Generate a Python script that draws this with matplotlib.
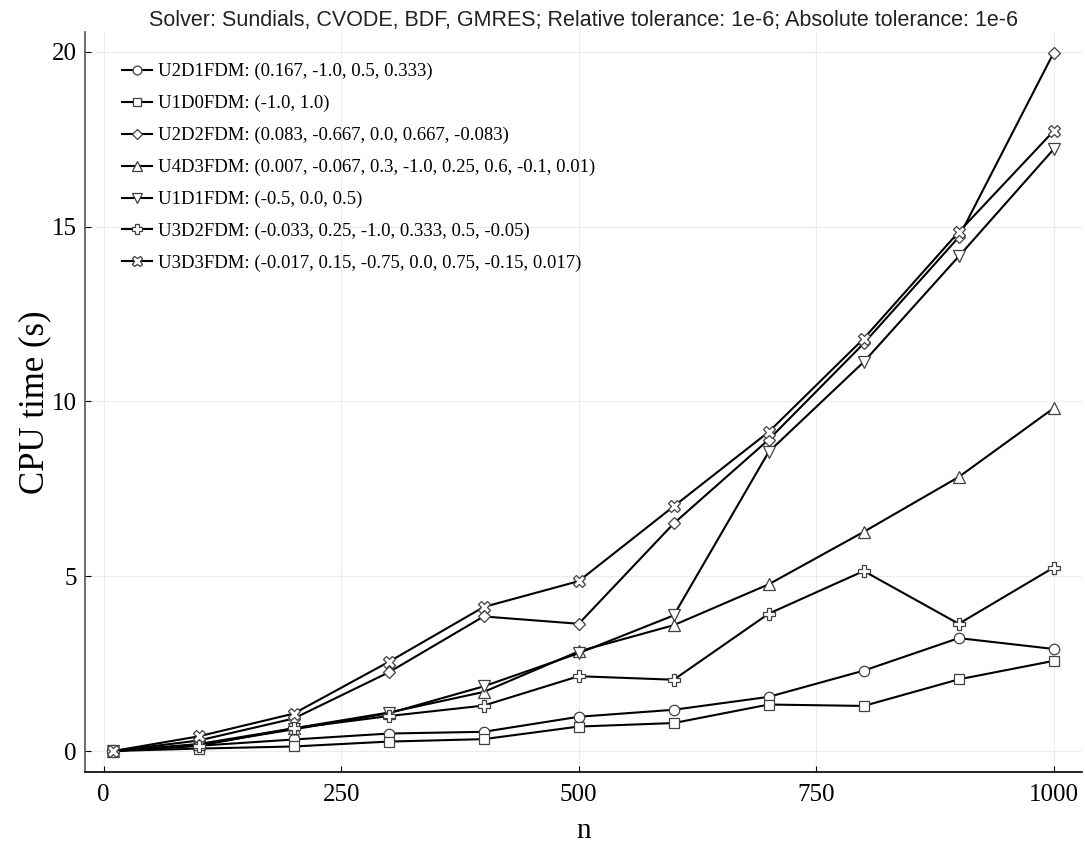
import matplotlib
matplotlib.use("Agg")
import matplotlib.pyplot as plt

# grid sizes and CPU times (s) for each finite difference scheme
n = [10, 100, 200, 300, 400, 500, 600, 700, 800, 900, 1000]

u2d1 = [0.0, 0.15, 0.33, 0.50, 0.55, 0.98, 1.18, 1.55, 2.30, 3.23, 2.92]
u1d0 = [0.0, 0.07, 0.13, 0.27, 0.34, 0.70, 0.80, 1.33, 1.29, 2.05, 2.58]
u2d2 = [0.0, 0.30, 0.93, 2.25, 3.85, 3.64, 6.51, 8.91, 11.66, 14.70, 19.98]
u4d3 = [0.0, 0.20, 0.65, 1.10, 1.69, 2.85, 3.60, 4.77, 6.27, 7.84, 9.81]
u1d1 = [0.0, 0.18, 0.62, 1.08, 1.85, 2.80, 3.88, 8.56, 11.13, 14.15, 17.22]
u3d2 = [0.0, 0.15, 0.65, 1.00, 1.30, 2.14, 2.04, 3.93, 5.15, 3.64, 5.25]
u3d3 = [0.0, 0.42, 1.07, 2.55, 4.12, 4.86, 7.00, 9.13, 11.80, 14.85, 17.74]

labels = [
    "U2D1FDM: (0.167, -1.0, 0.5, 0.333)",
    "U1D0FDM: (-1.0, 1.0)",
    "U2D2FDM: (0.083, -0.667, 0.0, 0.667, -0.083)",
    "U4D3FDM: (0.007, -0.067, 0.3, -1.0, 0.25, 0.6, -0.1, 0.01)",
    "U1D1FDM: (-0.5, 0.0, 0.5)",
    "U3D2FDM: (-0.033, 0.25, -1.0, 0.333, 0.5, -0.05)",
    "U3D3FDM: (-0.017, 0.15, -0.75, 0.0, 0.75, -0.15, 0.017)",
]
series = [u2d1, u1d0, u2d2, u4d3, u1d1, u3d2, u3d3]
markers = ["o", "s", "D", "^", "v", "P", "X"]
sizes = [7.5, 7.5, 6.5, 8, 8, 8.5, 8.5]

serif = "Liberation Serif"

fig = plt.figure(figsize=(10.85, 8.49), dpi=100)
ax = fig.add_axes([0.0783, 0.0907, 0.9189, 0.8716])

for y, lab, m, ms in zip(series, labels, markers, sizes):
    ax.plot(n, y, color="black", lw=1.5, marker=m, ms=ms,
            mfc="white", mec="#404040", mew=0.9, label=lab)

ax.set_xlim(-19.7, 1029.7)
ax.set_ylim(-0.6, 20.57)
ax.set_xticks([0, 250, 500, 750, 1000])
ax.set_yticks([0, 5, 10, 15, 20])
ax.grid(True, color="#ececec", lw=0.8)
ax.set_axisbelow(True)

for s in ["top", "right"]:
    ax.spines[s].set_visible(False)
ax.spines["left"].set_color("#555555")
ax.spines["left"].set_linewidth(1.2)
ax.spines["bottom"].set_linewidth(1.2)

ax.tick_params(direction="in", length=4, width=0.8, labelsize=18)
ax.tick_params(axis="x", pad=9)
ax.tick_params(axis="y", pad=6)
for t in ax.get_xticklabels() + ax.get_yticklabels():
    t.set_fontfamily(serif)

ax.set_xlabel("n", fontsize=21, family=serif, labelpad=8)
ax.set_ylabel("CPU time (s)", fontsize=25, family=serif, labelpad=0)
ax.set_title("Solver: Sundials, CVODE, BDF, GMRES; Relative tolerance: 1e-6; "
             "Absolute tolerance: 1e-6", fontsize=15.5, family="Liberation Sans",
             color="#222222", pad=4)

ax.legend(loc="upper left", bbox_to_anchor=(0.037, 0.958), frameon=False,
          prop={"family": serif, "size": 13.5}, handlelength=1.6,
          handletextpad=0.35, labelspacing=0.78, borderaxespad=0,
          borderpad=0, markerscale=0.85)

fig.savefig("out.png", dpi=100)
